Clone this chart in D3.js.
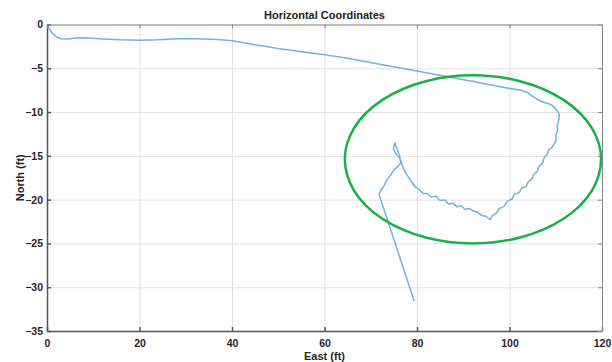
<!DOCTYPE html>
<html>
<head>
<meta charset="utf-8">
<script src="https://cdn.jsdelivr.net/npm/d3@7"></script>
<style>
  body { margin: 0; background: #fff; }
  svg text { font-family: "Liberation Sans", Arial, sans-serif; }
  .tick text { font-size: 10.5px; font-weight: bold; fill: #262626; }
  .grid line { stroke: #e0e0e0; stroke-width: 1; }
  .grid .domain { display: none; }
</style>
</head>
<body>
<div id="chart"></div>
<script>
// track of the walk, east / north in feet
var east = [0, 0.5, 1.2, 2.0, 3, 4.5, 6.8, 9, 12, 16, 20, 24, 27, 30, 34, 37, 40,
  45, 50, 55, 60, 65, 69, 74, 80, 84, 87, 90, 92.2, 96, 100, 102.5, 104, 105, 106.2,
  107.5, 108.8, 109.8, 110.5, 110.8, 110.6, 110.3, 110.4, 110.0, 110.1, 109.6, 109.1,
  108.5, 108.2, 107.4, 107.2, 106.4, 106.0, 105.2, 104.9, 104.0, 103.6, 102.6, 102.1,
  101.0, 100.6, 99.5, 98.8, 97.8, 97.2, 96.4, 95.8, 94.9, 94.0, 93.0, 92.2, 91.3, 90.4,
  89.5, 88.6, 87.7, 86.8, 85.9, 85.0, 84.0, 83.1, 82.2, 81.3, 80.4, 79.5, 78.8, 78.1,
  77.4, 76.8, 76.4, 75.5, 74.9, 75.2, 75.6, 76.2, 76.5, 75.9, 75.0, 74.3, 73.5, 72.9,
  72.2, 71.8, 79.4];
var north = [0, -0.5, -1.0, -1.4, -1.62, -1.65, -1.52, -1.55, -1.65, -1.75, -1.8, -1.75,
  -1.65, -1.6, -1.65, -1.72, -1.85, -2.3, -2.75, -3.1, -3.45, -3.85, -4.25, -4.75, -5.3,
  -5.7, -6.0, -6.3, -6.5, -6.9, -7.3, -7.5, -7.8, -8.2, -8.6, -8.9, -9.1, -9.5, -10.0,
  -10.3, -11.0, -11.6, -12.1, -12.7, -13.2, -13.7, -14.1, -14.3, -14.8, -15.3, -15.8,
  -16.2, -16.8, -17.1, -17.6, -18.0, -18.5, -18.7, -19.2, -19.4, -19.9, -20.2, -20.8,
  -21.0, -21.5, -21.8, -22.3, -21.9, -21.8, -21.4, -21.3, -21.0, -21.1, -20.7, -20.8,
  -20.4, -20.5, -20.0, -20.1, -19.6, -19.7, -19.3, -19.3, -18.8, -18.5, -17.9, -17.4,
  -16.8, -16.1, -15.4, -14.8, -14.2, -13.5, -14.1, -14.9, -15.8, -16.2, -16.6, -17.2,
  -17.7, -18.4, -18.9, -19.4, -31.6];

// green highlight ellipse (center and radii in feet)
var ringCenter = [92.1, -15.4];
var ringRadius = [27.7, 9.6];

var xTicks = [0, 20, 40, 60, 80, 100, 120];
var yTicks = [0, -5, -10, -15, -20, -25, -30, -35];

var margin = {top: 24.5, right: 10, bottom: 31, left: 47},
    width = 612 - margin.left - margin.right,
    height = 362 - margin.top - margin.bottom;

var svg = d3.select("#chart")
  .append("svg")
    .attr("width", 612)
    .attr("height", 362)
  .append("g")
    .attr("transform", "translate(" + margin.left + "," + margin.top + ")");

var x = d3.scaleLinear().domain([0, 120]).range([0, width]);
var y = d3.scaleLinear().domain([-35, 0]).range([height, 0]);

// grid
svg.append("g")
    .attr("class", "grid")
    .attr("transform", "translate(0," + height + ")")
  .call(d3.axisBottom(x).tickValues(xTicks).tickSize(-height).tickFormat(""));
svg.append("g")
    .attr("class", "grid")
  .call(d3.axisLeft(y).tickValues(yTicks).tickSize(-width).tickFormat(""));

// trajectory
var pts = east.map(function(e, i) { return [e, north[i]]; });
svg.append("path")
    .datum(pts)
    .attr("fill", "none")
    .attr("stroke", "#72b2e2")
    .attr("stroke-width", 1.5)
    .attr("stroke-linejoin", "round")
    .attr("d", d3.line()
      .x(function(d) { return x(d[0]); })
      .y(function(d) { return y(d[1]); }));

// highlight ring
svg.append("ellipse")
    .attr("cx", x(ringCenter[0]))
    .attr("cy", y(ringCenter[1]))
    .attr("rx", x(ringRadius[0]) - x(0))
    .attr("ry", y(0) - y(ringRadius[1]))
    .attr("fill", "none")
    .attr("stroke", "#17b04a")
    .attr("stroke-width", 2.5);

// box with inward ticks
svg.append("g")
    .attr("transform", "translate(0," + height + ")")
    .call(d3.axisBottom(x).tickValues(xTicks).tickSizeInner(-4).tickSizeOuter(0).tickPadding(9))
    .call(function(g) { g.selectAll("line, .domain").attr("stroke", "#555").attr("stroke-width", 1.5); });
svg.append("g")
    .call(d3.axisLeft(y).tickValues(yTicks).tickSizeInner(-4).tickSizeOuter(0).tickPadding(4))
    .call(function(g) { g.selectAll("line, .domain").attr("stroke", "#555").attr("stroke-width", 1.5); });
svg.append("g")
    .call(d3.axisTop(x).tickValues(xTicks).tickSizeInner(-4).tickSizeOuter(0).tickFormat(""))
    .call(function(g) { g.selectAll("line, .domain").attr("stroke", "#888").attr("stroke-width", 1); });
svg.append("g")
    .attr("transform", "translate(" + width + ",0)")
    .call(d3.axisRight(y).tickValues(yTicks).tickSizeInner(-4).tickSizeOuter(0).tickFormat(""))
    .call(function(g) { g.selectAll("line, .domain").attr("stroke", "#888").attr("stroke-width", 1); });

// labels
svg.append("text")
    .attr("x", width / 2)
    .attr("y", -6)
    .attr("text-anchor", "middle")
    .style("font-size", "11px")
    .style("font-weight", "bold")
    .style("fill", "#222")
  .text("Horizontal Coordinates");

svg.append("text")
    .attr("x", width / 2)
    .attr("y", height + 29)
    .attr("text-anchor", "middle")
    .style("font-size", "11px")
    .style("font-weight", "bold")
    .style("fill", "#262626")
  .text("East (ft)");

svg.append("text")
    .attr("transform", "rotate(-90)")
    .attr("x", -height / 2)
    .attr("y", -23)
    .attr("text-anchor", "middle")
    .style("font-size", "11px")
    .style("font-weight", "bold")
    .style("fill", "#262626")
  .text("North (ft)");
</script>
</body>
</html>
